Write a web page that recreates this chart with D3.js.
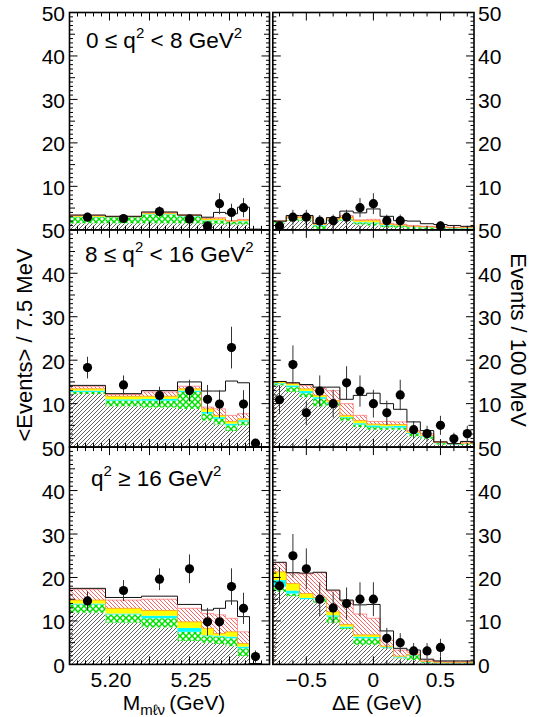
<!DOCTYPE html>
<html><head><meta charset="utf-8">
<script src="https://cdn.jsdelivr.net/npm/d3@7"></script>
<style>
body{margin:0;background:#fff}
svg{display:block}
text{font-family:"Liberation Sans",Arial,Helvetica,sans-serif;fill:#000}
</style>
</head><body>
<svg id="c" width="542" height="717"></svg>
<script>
// ---------------- DATA ----------------
const mEdges  = [5.175, 5.1975, 5.22, 5.2425, 5.2575, 5.265, 5.2725, 5.28, 5.2875, 5.295];
const dEEdges = [-0.75,-0.65,-0.55,-0.45,-0.35,-0.25,-0.15,-0.05,0.05,0.15,0.25,0.35,0.45,0.55,0.65,0.75];
const yTickLabels  = [10, 20, 30, 40, 50];
const mTickLabels  = [5.20, 5.25];
const dETickLabels = [-0.5, 0, 0.5];
const qLabels = [
  [["0 \u2264 q",0],["2",1],[" < 8 GeV",0],["2",1]],
  [["8 \u2264 q",0],["2",1],[" < 16 GeV",0],["2",1]],
  [["q",0],["2",1],[" \u2265 16 GeV",0],["2",1]]
];

// cumulative stack tops, per panel
// M_mlnu, 0<=q2<8
const mLowHatch  = [1.5,1.5,1.5,1.5,1.2,1.4,1.2,1.2,0];
const mLowGreen  = [2.9,2.9,3.5,3.1,2.1,2.1,1.8,1.9,0];
const mLowCyan   = [3.0,3.0,3.6,3.3,2.2,2.2,1.9,2.0,0];
const mLowYellow = [3.2,3.0,3.8,3.3,2.5,2.5,2.0,2.2,0];
const mLowRed    = [3.3,3.1,4.0,3.4,2.7,2.8,2.1,2.4,0];
const mLowTotal  = [3.4,3.1,4.1,3.4,2.9,4.0,3.7,5.2,0.15];
const mLowData   = [2.9,2.6,4.2,2.5,0.9,6.0,4.0,5.1,null];
const mLowErr    = [1.0,0.9,1.2,1.0,1.0,2.4,2.0,2.2,null];
// M_mlnu, 8<=q2<16
const mMidHatch  = [12.2,9.4,9.1,8.8,6.1,5.2,3.7,5.0,0];
const mMidGreen  = [12.7,10.7,10.7,12.7,7.7,6.5,5.0,5.9,0];
const mMidCyan   = [13.0,11.0,11.1,13.0,8.1,6.9,5.4,6.2,0];
const mMidYellow = [13.4,11.7,11.7,13.4,8.8,7.3,5.9,6.5,0];
const mMidRed    = [14.0,12.1,12.7,14.0,9.2,8.8,7.3,7.7,0];
const mMidTotal  = [14.2,12.3,13.0,15.0,12.9,12.9,15.2,14.8,0.15];
const mMidData   = [18.3,14.3,11.9,13.0,11.0,9.9,22.9,9.9,0.9];
const mMidErr    = [2.5,2.2,2.0,2.5,3.3,3.2,4.8,3.2,1.0];
// M_mlnu, q2>=16
const mHighHatch  = [11.9,9.6,8.5,5.4,5.0,4.7,4.2,1.9,0];
const mHighGreen  = [13.8,11.5,10.6,7.5,6.5,6.4,6.0,3.7,0];
const mHighCyan   = [14.0,11.7,11.2,8.4,6.7,6.6,6.4,4.1,0];
const mHighYellow = [14.8,12.9,12.4,9.8,8.3,7.1,7.5,4.8,0];
const mHighRed    = [17.3,14.8,15.0,12.9,11.7,11.4,10.6,7.5,0];
const mHighTotal  = [17.5,15.4,15.7,13.8,12.5,12.9,14.6,11.0,0.2];
const mHighData   = [14.6,17.0,19.6,22.0,9.8,9.8,17.9,12.9,1.8];
const mHighErr    = [2.2,2.4,2.5,3.3,3.2,3.1,4.2,3.6,1.4];
// DeltaE, 0<=q2<8
const dLowHatch  = [1.5,2.1,2.1,0.2,2.0,2.1,1.2,1.0,0.6,0.5,0.2,0.1,0.1,0.1,0.1];
const dLowGreen  = [1.9,2.5,2.5,1.0,2.2,2.4,1.7,1.5,1.0,0.9,0.6,0.5,0.4,0.3,0.3];
const dLowCyan   = [2.0,2.6,2.6,1.1,2.3,2.5,1.8,1.7,1.1,1.0,0.7,0.6,0.5,0.4,0.4];
const dLowYellow = [2.0,2.9,2.9,1.3,2.5,2.9,2.1,2.1,1.3,1.1,0.8,0.7,0.6,0.5,0.5];
const dLowRed    = [2.0,3.1,3.1,1.4,2.7,3.3,2.3,2.4,1.5,1.3,1.0,0.8,0.7,0.6,0.7];
const dLowTotal  = [2.0,3.3,3.3,1.5,2.8,4.3,3.9,4.8,3.1,2.1,2.0,1.4,1.2,1.0,0.8];
const dLowData   = [0.9,2.9,2.9,2.0,2.1,2.9,5.1,6.0,2.1,2.1,null,null,0.9,null,null];
const dLowErr    = [1.0,1.7,1.7,1.4,1.4,1.7,2.2,2.4,1.4,1.4,null,null,1.0,null,null];
// DeltaE, 8<=q2<16
const dMidHatch  = [14.2,12.7,11.5,9.4,9.6,6.1,4.6,4.0,4.0,4.0,2.5,1.9,0.6,0.5,0.5];
const dMidGreen  = [14.5,13.8,12.4,11.1,10.0,6.7,5.2,4.6,4.5,4.5,3.1,2.3,0.9,0.6,0.7];
const dMidCyan   = [14.7,14.2,12.9,11.5,10.3,6.9,5.5,5.0,4.8,4.9,3.3,2.5,1.0,0.7,0.8];
const dMidYellow = [15.0,14.6,13.4,11.9,10.7,7.3,6.1,5.3,5.2,5.2,3.5,2.7,1.1,0.8,0.9];
const dMidRed    = [15.1,14.8,14.2,13.6,13.0,10.0,7.3,5.9,5.9,5.8,3.8,3.1,1.2,0.8,1.2];
const dMidTotal  = [15.1,14.8,14.4,13.8,13.8,11.0,11.9,12.4,10.0,8.7,5.8,3.8,1.2,0.8,1.3];
const dMidData   = [10.9,19.0,7.9,12.9,10.0,14.8,12.9,10.0,7.9,12.0,4.0,3.1,5.0,1.9,3.1];
const dMidErr    = [3.3,4.4,2.8,3.6,3.2,3.8,3.6,3.2,2.8,3.5,2.0,1.8,2.2,1.4,1.8];
// DeltaE, q2>=16
const dHighHatch  = [16.7,15.7,15.0,14.2,9.6,8.1,4.5,4.5,3.7,1.4,1.0,0.3,0.2,0.2,0.2];
const dHighGreen  = [17.9,16.3,15.0,15.0,11.0,8.4,6.0,6.0,3.9,1.6,2.1,0.5,0.3,0.3,0.3];
const dHighCyan   = [19.4,17.0,15.3,15.2,11.3,8.7,6.4,6.3,4.0,1.8,2.2,0.6,0.4,0.4,0.4];
const dHighYellow = [21.3,18.6,16.3,15.4,12.1,9.2,6.8,6.8,4.2,1.9,2.3,0.7,0.5,0.5,0.5];
const dHighRed    = [23.4,21.0,20.8,21.1,16.9,14.6,11.6,10.6,5.6,3.3,2.8,1.0,0.7,0.6,0.6];
const dHighTotal  = [23.5,21.1,21.0,21.2,17.1,14.8,13.7,13.8,7.7,3.7,3.3,1.2,0.8,0.8,0.8];
const dHighData   = [18.1,25.0,22.0,15.0,13.0,14.0,15.0,15.0,6.0,5.0,3.1,3.1,3.9,null,null];
const dHighErr    = [4.3,5.0,4.7,3.9,3.6,3.7,3.9,3.9,2.4,2.2,1.8,1.8,2.0,null,null];

// ---------------- DRAWING ----------------
const svg = d3.select("#c");
const defs = svg.append("defs");
function hatchPattern(id, color, dir, size, sw){
  const p = defs.append("pattern").attr("id", id).attr("patternUnits","userSpaceOnUse")
    .attr("width", size).attr("height", size);
  p.append("rect").attr("width", size).attr("height", size).attr("fill","#fff");
  const s = size;
  const d = dir > 0
    ? `M${-s/2},${s/2} L${s/2},${-s/2} M0,${s} L${s},0 M${s/2},${1.5*s} L${1.5*s},${s/2}`
    : `M${-s/2},${s/2} L${s/2},${1.5*s} M0,0 L${s},${s} M${s/2},${-s/2} L${1.5*s},${s/2}`;
  p.append("path").attr("d", d).attr("stroke", color).attr("stroke-width", sw).attr("fill","none");
}
hatchPattern("hb", "#3a3a3a", 1, 4, 0.8);
hatchPattern("rh", "#ff3b3b", -1, 4, 0.8);
{
  const s = 6;
  const p = defs.append("pattern").attr("id","gx").attr("patternUnits","userSpaceOnUse")
    .attr("width", s).attr("height", s);
  p.append("rect").attr("width", s).attr("height", s).attr("fill","#fff");
  p.append("path").attr("d", `M0,0 L${s},${s} M${s},0 L0,${s}`)
    .attr("stroke","#00e000").attr("stroke-width",1.5).attr("fill","none");
}

const lx0 = 69.5, lx1 = 269.5, rx0 = 272.8, rx1 = 474;
const rowTop = [12.5, 229.8, 447.1], ph = 217.3;
const xM = d3.scaleLinear().domain([5.175, 5.30]).range([lx0, lx1]);
const xD = d3.scaleLinear().domain([-0.75, 0.75]).range([rx0, rx1]);
const yS = rowTop.map(t => d3.scaleLinear().domain([0, 50]).range([t + ph, t]));

const fills = ["url(#hb)", "url(#gx)", "#00ffff", "#ffff00", "url(#rh)", "#ffffff"];
const panels = [
  {x:xM, e:mEdges, r:0, L:[mLowHatch,mLowGreen,mLowCyan,mLowYellow,mLowRed,mLowTotal], d:mLowData, er:mLowErr},
  {x:xM, e:mEdges, r:1, L:[mMidHatch,mMidGreen,mMidCyan,mMidYellow,mMidRed,mMidTotal], d:mMidData, er:mMidErr},
  {x:xM, e:mEdges, r:2, L:[mHighHatch,mHighGreen,mHighCyan,mHighYellow,mHighRed,mHighTotal], d:mHighData, er:mHighErr},
  {x:xD, e:dEEdges, r:0, L:[dLowHatch,dLowGreen,dLowCyan,dLowYellow,dLowRed,dLowTotal], d:dLowData, er:dLowErr},
  {x:xD, e:dEEdges, r:1, L:[dMidHatch,dMidGreen,dMidCyan,dMidYellow,dMidRed,dMidTotal], d:dMidData, er:dMidErr},
  {x:xD, e:dEEdges, r:2, L:[dHighHatch,dHighGreen,dHighCyan,dHighYellow,dHighRed,dHighTotal], d:dHighData, er:dHighErr},
];

panels.forEach((P) => {
  const y = yS[P.r], x = P.x;
  const g = svg.append("g");
  const nb = P.e.length - 1;
  for (let i = 0; i < nb; i++) {
    let prev = 0;
    P.L.forEach((arr, li) => {
      const top = arr[i];
      if (top > prev) {
        g.append("rect").attr("x", x(P.e[i])).attr("width", x(P.e[i+1]) - x(P.e[i]))
          .attr("y", y(top)).attr("height", y(prev) - y(top)).attr("fill", fills[li]);
      }
      prev = Math.max(prev, top);
    });
  }
  const stepPts = arr => {
    const pts = [[x(P.e[0]), y(0)]];
    for (let i = 0; i < nb; i++) { pts.push([x(P.e[i]), y(arr[i])]); pts.push([x(P.e[i+1]), y(arr[i])]); }
    pts.push([x(P.e[nb]), y(0)]);
    return pts;
  };
  const line = d3.line();
  g.append("path").attr("d", line(stepPts(P.L[3]))).attr("fill","none").attr("stroke","#ff9a00").attr("stroke-width",0.8);
  g.append("path").attr("d", line(stepPts(P.L[4]))).attr("fill","none").attr("stroke","#ff5050").attr("stroke-width",0.6);
  g.append("path").attr("d", line(stepPts(P.L[5]))).attr("fill","none").attr("stroke","#111").attr("stroke-width",1);
  for (let i = 0; i < nb; i++) {
    const v = P.d[i];
    if (v === null) continue;
    const cx = x((P.e[i] + P.e[i+1]) / 2);
    const ytop = Math.min(50, v + P.er[i]);
    g.append("line").attr("x1", cx).attr("x2", cx).attr("y1", y(ytop)).attr("y2", y(Math.max(0, v - P.er[i])))
      .attr("stroke","#333").attr("stroke-width",1);
    g.append("circle").attr("cx", cx).attr("cy", y(v)).attr("r", 4.6).attr("fill","#000");
  }
});

function yTicksFor(xEdge, dir, y) {
  const g = svg.append("g");
  d3.range(0, 51, 1).forEach(v => {
    const len = v % 10 === 0 ? 8 : (v % 5 === 0 ? 5.5 : 3.5);
    g.append("line").attr("x1", xEdge).attr("x2", xEdge + dir*len).attr("y1", y(v)).attr("y2", y(v))
      .attr("stroke","#000").attr("stroke-width",1);
  });
}
function xTicksFor(x, vals, majorFn, yEdge, dir) {
  const g = svg.append("g");
  vals.forEach(v => {
    const len = majorFn(v) ? 8 : 4;
    g.append("line").attr("x1", x(v)).attr("x2", x(v)).attr("y1", yEdge).attr("y2", yEdge + dir*len)
      .attr("stroke","#000").attr("stroke-width",1);
  });
}
const mTickVals = d3.range(0, 26).map(k => +(5.175 + k*0.005).toFixed(3));
const mMajor = v => Math.round(v*1000) % 25 === 0;
const dTickVals = d3.range(-7, 8).map(k => k/10);
const dMajor = v => Math.abs(v*2 - Math.round(v*2)) < 1e-6;

[0,1,2].forEach(r => {
  const y = yS[r];
  [[lx0,lx1,xM,mTickVals,mMajor],[rx0,rx1,xD,dTickVals,dMajor]].forEach(([a,b,x,tv,mj]) => {
    yTicksFor(a, 1, y);
    yTicksFor(b, -1, y);
    xTicksFor(x, tv, mj, y(50), 1);
    xTicksFor(x, tv, mj, y(0), -1);
    svg.append("rect").attr("x", a).attr("y", y(50)).attr("width", b - a).attr("height", y(0) - y(50))
      .attr("fill","none").attr("stroke","#000").attr("stroke-width",1.6);
  });
  const labs = r === 2 ? [0].concat(yTickLabels) : yTickLabels;
  labs.forEach(v => {
    svg.append("text").attr("x", 65).attr("y", y(v) + 8.5).attr("text-anchor","end")
      .attr("font-size", 21).text(v);
    svg.append("text").attr("x", 478).attr("y", y(v) + 8.5).attr("text-anchor","start")
      .attr("font-size", 21).text(v);
  });
  const ql = svg.append("text").attr("x", [86, 85, 91][r]).attr("y", rowTop[r] + [35.5, 32, 39][r]).attr("font-size", 22.5);
  qLabels[r].forEach(([t, sup], k) => {
    ql.append("tspan").text(t).attr("font-size", sup ? 15 : 22.5).attr("dy", k === 0 ? 0 : (sup ? -10 : 10));
  });
});

const yBot = yS[2](0);
mTickLabels.forEach(v => {
  svg.append("text").attr("x", xM(v) + 1.5).attr("y", yBot + 22.5).attr("text-anchor","middle").attr("font-size", 21)
    .text(v.toFixed(2));
});
dETickLabels.forEach(v => {
  svg.append("text").attr("x", xD(v)).attr("y", yBot + 22.5).attr("text-anchor","middle").attr("font-size", 21)
    .text(v === 0 ? "0" : (v < 0 ? "\u2212" + Math.abs(v) : String(v)));
});
const tM = svg.append("text").attr("x", 174).attr("y", 710).attr("text-anchor","middle").attr("font-size", 21);
tM.append("tspan").text("M");
tM.append("tspan").text("m\u2113\u03bd").attr("font-size", 15).attr("dy", 5);
tM.append("tspan").text("\u2009(GeV)").attr("dy", -5);
svg.append("text").attr("x", 377).attr("y", 710).attr("text-anchor","middle").attr("font-size", 21).text("\u0394E (GeV)");
svg.append("text").attr("transform","translate(32,345) rotate(-90)").attr("text-anchor","middle").attr("font-size", 22)
  .text("<Events> / 7.5 MeV");
svg.append("text").attr("transform","translate(511,340) rotate(90)").attr("text-anchor","middle").attr("font-size", 22)
  .text("Events / 100 MeV");
</script>
</body></html>
